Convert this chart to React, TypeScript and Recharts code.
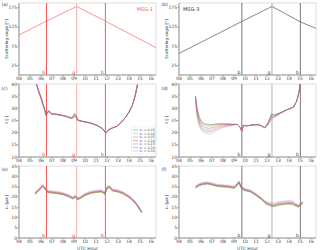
import { LineChart, Line, XAxis, YAxis, ReferenceLine, ReferenceArea } from 'recharts';

const FONT = 'DejaVu Sans';
const xTicks = [4, 5, 6, 7, 8, 9, 10, 11, 12, 13, 14, 15, 16];
const fmtHour = (v: number) => String(v).padStart(2, '0');

const aHours = [4, 6.5, 9.24, 11.85, 16.45];
const aAngle = [104, 140, 178, 140, 71];
const bHours = [4, 9.71, 12.45, 15.03, 16.45];
const bAngle = [56, 139, 178, 138, 121];

const epsNames = ['ε₀ = 0.01', 'ε₀ = 0.02', 'ε₀ = 0.05', 'ε₀ = 0.10', 'ε₀ = 0.15', 'ε₀ = 0.20', 'ε₀ = 0.30'];
const epsKeys = ['e01', 'e02', 'e05', 'e10', 'e15', 'e20', 'e30'];
const epsColors = ['#1f77b4', '#ff7f0e', '#2ca02c', '#d62728', '#9467bd', '#8c564b', '#e377c2'];

const cHours = [5.55, 5.8, 6.0, 6.2, 6.35, 6.45, 6.6, 6.72, 6.95, 7.4, 7.9, 8.4, 8.75, 8.92, 9.05, 9.2, 9.35, 9.8, 10.5, 11.1, 11.55, 11.9, 12.15, 12.5, 12.9, 13.3, 13.7, 14.0, 14.3, 14.55, 14.8];
const c01 = [40.5, 37.0, 34.5, 31.5, 29.4, 27.3, 28.5, 28.9, 27.8, 27.6, 27.2, 26.6, 26.0, 26.6, 27.5, 26.8, 25.2, 24.7, 24.0, 23.0, 21.8, 19.9, 21.3, 22.0, 22.6, 24.3, 26.4, 28.5, 31.3, 35.0, 40.5];
const c02 = [40.5, 37.1, 34.6, 31.6, 29.5, 27.4, 28.6, 29.0, 27.8, 27.6, 27.2, 26.6, 26.1, 26.8, 27.7, 26.9, 25.2, 24.7, 24.0, 23.0, 21.8, 19.9, 21.3, 22.0, 22.6, 24.3, 26.4, 28.5, 31.3, 35.0, 40.5];
const c05 = [40.5, 37.2, 34.7, 31.7, 29.6, 27.5, 28.7, 29.1, 27.9, 27.7, 27.2, 26.7, 26.2, 27.0, 28.0, 27.1, 25.3, 24.7, 24.0, 23.0, 21.8, 19.9, 21.3, 22.0, 22.6, 24.3, 26.4, 28.5, 31.3, 35.0, 40.5];
const c10 = [40.5, 36.9, 34.4, 31.4, 29.3, 27.2, 28.4, 28.8, 27.7, 27.5, 27.1, 26.5, 25.9, 26.4, 27.2, 26.6, 25.1, 24.6, 24.0, 23.0, 21.8, 19.9, 21.2, 22.0, 22.6, 24.3, 26.4, 28.5, 31.3, 35.0, 40.5];
const c15 = [40.5, 36.7, 34.2, 31.2, 29.1, 27.1, 28.3, 28.7, 27.6, 27.5, 27.1, 26.5, 25.8, 26.2, 26.9, 26.4, 25.0, 24.6, 23.9, 22.9, 21.7, 19.8, 21.2, 22.0, 22.6, 24.3, 26.4, 28.5, 31.3, 35.0, 40.5];
const c20 = [40.5, 36.5, 34.0, 31.0, 29.0, 27.0, 28.2, 28.6, 27.6, 27.4, 27.0, 26.4, 25.8, 26.1, 26.8, 26.3, 25.0, 24.5, 23.9, 22.9, 21.7, 19.8, 21.1, 21.9, 22.6, 24.3, 26.4, 28.5, 31.3, 35.0, 40.5];
const c30 = [40.5, 36.2, 33.6, 30.7, 28.8, 26.9, 28.0, 28.5, 27.5, 27.4, 27.0, 26.4, 25.7, 25.9, 26.6, 26.2, 24.9, 24.5, 23.9, 22.9, 21.7, 19.8, 21.1, 21.9, 22.6, 24.3, 26.4, 28.5, 31.3, 35.0, 40.5];

const dHours = [5.5, 5.6, 5.75, 5.9, 6.1, 6.4, 6.8, 7.2, 7.6, 8.0, 8.5, 9.0, 9.3, 9.55, 9.7, 9.85, 10.2, 10.7, 11.2, 11.5, 11.8, 12.1, 12.4, 12.7, 13.1, 13.5, 14.0, 14.4, 14.7, 14.9, 15.02];
const d01 = [35.0, 31.0, 27.5, 25.5, 24.0, 23.3, 23.1, 23.3, 23.6, 23.6, 23.5, 23.4, 23.4, 22.3, 20.6, 23.0, 22.8, 23.2, 23.3, 22.8, 22.0, 24.2, 27.6, 27.3, 28.0, 28.8, 29.8, 30.5, 33.0, 36.5, 40.2];
const d02 = [34.8, 30.6, 27.0, 25.0, 23.5, 22.8, 22.6, 23.0, 23.4, 23.5, 23.5, 23.4, 23.4, 22.3, 20.6, 23.0, 22.8, 23.2, 23.3, 22.8, 22.0, 24.0, 27.2, 27.1, 27.9, 28.8, 29.8, 30.5, 33.0, 36.5, 40.2];
const d05 = [35.2, 31.5, 28.0, 26.0, 24.4, 23.6, 23.4, 23.5, 23.7, 23.7, 23.6, 23.4, 23.4, 22.3, 20.6, 23.0, 22.8, 23.2, 23.3, 22.8, 22.0, 24.3, 27.8, 27.4, 28.0, 28.8, 29.8, 30.5, 33.0, 36.5, 40.2];
const d10 = [34.5, 30.0, 26.3, 24.3, 22.8, 22.0, 21.8, 22.3, 23.0, 23.2, 23.3, 23.4, 23.4, 22.3, 20.6, 23.0, 22.8, 23.2, 23.3, 22.8, 22.0, 23.8, 26.7, 26.9, 27.8, 28.7, 29.8, 30.5, 33.0, 36.5, 40.2];
const d15 = [34.2, 29.3, 25.5, 23.5, 22.0, 21.2, 21.0, 21.6, 22.5, 22.8, 23.1, 23.3, 23.4, 22.3, 20.6, 23.0, 22.8, 23.2, 23.3, 22.8, 22.0, 23.6, 26.2, 26.7, 27.7, 28.7, 29.8, 30.5, 33.0, 36.5, 40.2];
const d20 = [33.9, 28.7, 24.8, 22.8, 21.3, 20.5, 20.3, 20.9, 21.9, 22.4, 22.9, 23.2, 23.4, 22.3, 20.6, 23.0, 22.8, 23.2, 23.3, 22.8, 22.0, 23.4, 25.8, 26.5, 27.6, 28.6, 29.8, 30.5, 33.0, 36.5, 40.2];
const d30 = [33.5, 28.0, 24.0, 22.0, 20.5, 19.7, 19.5, 20.2, 21.3, 22.0, 22.6, 23.2, 23.4, 22.3, 20.6, 23.0, 22.8, 23.2, 23.3, 22.8, 22.0, 23.3, 25.3, 26.3, 27.5, 28.6, 29.8, 30.5, 33.0, 36.5, 40.2];

const eHours = [5.45, 5.8, 6.15, 6.35, 6.55, 6.7, 7.0, 7.5, 8.0, 8.5, 8.9, 9.1, 9.35, 9.6, 10.0, 10.5, 11.0, 11.5, 11.78, 12.0, 12.2, 12.5, 13.0, 13.5, 14.0, 14.3, 14.7, 15.15];
const e01 = [21.4, 23.1, 25.1, 24.1, 22.5, 22.2, 22.0, 21.7, 21.2, 20.2, 19.1, 20.0, 18.8, 19.4, 20.8, 21.8, 22.3, 22.5, 21.4, 24.1, 24.7, 23.0, 22.5, 21.5, 19.8, 18.5, 16.1, 12.4];
const e02 = [21.3, 23.0, 25.0, 24.0, 22.4, 22.1, 21.9, 21.6, 21.1, 20.1, 19.0, 19.9, 18.7, 19.3, 20.7, 21.7, 22.2, 22.4, 21.3, 24.0, 24.6, 22.9, 22.4, 21.4, 19.7, 18.4, 16.0, 12.3];
const e05 = [21.2, 22.9, 24.9, 23.9, 22.3, 22.0, 21.8, 21.5, 21.0, 20.0, 18.9, 19.8, 18.6, 19.2, 20.6, 21.6, 22.1, 22.3, 21.2, 23.9, 24.5, 22.8, 22.3, 21.3, 19.6, 18.3, 15.9, 12.2];
const e10 = [21.6, 23.3, 25.3, 24.3, 22.7, 22.4, 22.2, 21.9, 21.4, 20.4, 19.3, 20.2, 19.0, 19.6, 21.0, 22.0, 22.5, 22.7, 21.6, 24.3, 24.9, 23.2, 22.7, 21.7, 20.0, 18.7, 16.3, 12.5];
const e15 = [22.0, 23.7, 25.7, 24.7, 23.1, 22.8, 22.6, 22.3, 21.8, 20.8, 19.7, 20.6, 19.4, 20.0, 21.4, 22.4, 22.9, 23.1, 22.0, 24.7, 25.3, 23.6, 23.1, 22.1, 20.4, 19.1, 16.7, 12.9];
const e20 = [21.8, 23.5, 25.5, 24.5, 22.9, 22.6, 22.4, 22.1, 21.6, 20.6, 19.5, 20.4, 19.2, 19.8, 21.2, 22.2, 22.7, 22.9, 21.8, 24.5, 25.1, 23.4, 22.9, 21.9, 20.2, 18.9, 16.5, 12.7];
const e30 = [22.3, 24.0, 26.0, 25.0, 23.4, 23.1, 22.9, 22.6, 22.1, 21.1, 20.0, 20.9, 19.7, 20.3, 21.7, 22.7, 23.2, 23.4, 22.3, 25.0, 25.6, 23.9, 23.4, 22.4, 20.7, 19.4, 17.0, 13.0];

const fHours = [5.5, 5.8, 6.2, 6.6, 7.0, 7.5, 8.0, 8.5, 9.0, 9.2, 9.45, 9.7, 10.0, 10.5, 11.0, 11.5, 11.9, 12.3, 12.6, 12.9, 13.3, 13.8, 14.3, 14.6, 14.85, 15.0, 15.25];
const f01 = [24.5, 25.5, 26.2, 26.4, 25.9, 25.2, 25.0, 24.8, 24.3, 25.2, 26.9, 24.0, 23.2, 22.5, 20.8, 18.8, 16.8, 15.8, 15.5, 16.0, 16.4, 16.7, 16.7, 15.8, 15.2, 15.8, 17.1];
const f02 = [24.4, 25.4, 26.1, 26.3, 25.8, 25.1, 24.9, 24.7, 24.2, 25.1, 26.8, 23.9, 23.1, 22.4, 20.7, 18.7, 16.7, 15.7, 15.3, 15.8, 16.2, 16.5, 16.5, 15.7, 15.1, 15.7, 17.0];
const f05 = [24.3, 25.3, 26.0, 26.2, 25.7, 25.0, 24.8, 24.6, 24.1, 25.0, 26.7, 23.8, 23.0, 22.3, 20.6, 18.6, 16.6, 15.6, 15.2, 15.7, 16.1, 16.4, 16.4, 15.6, 15.0, 15.6, 16.9];
const f10 = [24.7, 25.7, 26.4, 26.6, 26.1, 25.4, 25.2, 25.0, 24.5, 25.4, 27.1, 24.2, 23.4, 22.7, 21.0, 19.0, 17.0, 16.1, 15.8, 16.3, 16.7, 17.0, 16.9, 16.0, 15.4, 16.0, 17.3];
const f15 = [25.1, 26.1, 26.8, 27.0, 26.5, 25.8, 25.6, 25.4, 24.9, 25.8, 27.5, 24.6, 23.8, 23.1, 21.4, 19.4, 17.5, 16.8, 16.5, 17.0, 17.4, 17.7, 17.6, 16.5, 15.8, 16.4, 17.6];
const f20 = [24.9, 25.9, 26.6, 26.8, 26.3, 25.6, 25.4, 25.2, 24.7, 25.6, 27.3, 24.4, 23.6, 22.9, 21.2, 19.2, 17.2, 16.4, 16.1, 16.6, 17.0, 17.3, 17.2, 16.2, 15.6, 16.2, 17.4];
const f30 = [25.4, 26.4, 27.1, 27.3, 26.8, 26.1, 25.9, 25.7, 25.2, 26.1, 27.8, 24.9, 24.1, 23.4, 21.7, 19.7, 17.8, 17.3, 17.0, 17.5, 17.9, 18.2, 18.1, 16.9, 16.1, 16.6, 17.8];

const angleTicks = [0, 25, 50, 75, 100, 125, 150, 175];
const tauTicks = [10, 15, 20, 25, 30, 35, 40];
const reTicks = [0, 5, 10, 15, 20, 25, 30, 35];

const msg1Lines = [
  { x: 6.5, label: 'b', color: '#f24a4a' },
  { x: 9.24, label: 'g', color: '#f9a5a5' },
  { x: 11.85, label: 'b', color: '#f24a4a' },
];
const msg3Lines = [
  { x: 9.71, label: 'b', color: '#6a6a6a' },
  { x: 12.45, label: 'g', color: '#aaaaaa' },
  { x: 15.03, label: 'b', color: '#6a6a6a' },
];

const buildRows = (hours: number[], cols: number[][]) =>
  hours.map((h, i) => {
    const row: Record<string, number> = { h };
    cols.forEach((c, j) => (row[epsKeys[j]] = c[i]));
    return row;
  });

const epsSeries = epsKeys.map((k, i) => ({ key: k, color: epsColors[i], name: epsNames[i] }));

const tickStyle = { fontSize: 4.5, fill: '#444', fontFamily: FONT };

interface PanelProps {
  left: number;
  top: number;
  height: number;
  xAxisHeight: number;
  rows: Record<string, number>[];
  series: { key: string; color: string; name: string }[];
  domain: [number, number];
  yTicks: number[];
  vlines: { x: number; label: string; color: string }[];
  labelColor: string;
  xLabel?: boolean;
  lineOpacity?: number;
  lineWidth?: number;
}

function Panel({ left, top, height, xAxisHeight, rows, series, domain, yTicks, vlines, labelColor, xLabel, lineOpacity = 0.6, lineWidth = 0.6 }: PanelProps) {
  return (
    <div style={{ position: 'absolute', left, top }}>
      <LineChart width={160} height={height} data={rows} margin={{ top: 3, right: 4, left: 0, bottom: 0 }}>
        <XAxis
          dataKey="h"
          type="number"
          domain={[4, 16.45]}
          ticks={xTicks}
          interval={0}
          tickFormatter={fmtHour}
          height={xAxisHeight}
          tick={tickStyle}
          tickSize={1.5}
          tickMargin={0.5}
          stroke="#999"
          allowDataOverflow
          label={xLabel ? { value: 'UTC Hour', position: 'insideBottom', offset: 0, fontSize: 4.5, fill: '#444', fontFamily: FONT } : undefined}
        />
        <YAxis
          type="number"
          domain={domain}
          ticks={yTicks}
          width={19}
          tick={tickStyle}
          tickSize={1.5}
          tickMargin={0.5}
          stroke="#999"
          allowDataOverflow
        />
        <ReferenceArea x1={4} x2={16.45} y1={domain[0]} y2={domain[1]} fill="none" stroke="#c8c8c8" strokeWidth={0.6} />
        {vlines.map((v) => (
          <ReferenceLine
            key={`v-${v.x}`}
            x={v.x}
            stroke={v.color}
            strokeOpacity={1}
            strokeWidth={0.9}
            label={{ value: v.label, position: 'insideBottomRight', offset: 1.5, fontSize: 4.5, fill: labelColor, fontFamily: FONT }}
          />
        ))}
        {series.map((s) => (
          <Line
            key={s.key}
            dataKey={s.key}
            stroke={s.color}
            strokeWidth={lineWidth}
            strokeOpacity={lineOpacity}
            dot={false}
            isAnimationActive={false}
          />
        ))}
      </LineChart>
    </div>
  );
}

export default function App() {
  const aRows = aHours.map((h, i) => ({ h, e01: aAngle[i] }));
  const bRows = bHours.map((h, i) => ({ h, e01: bAngle[i] }));
  const cRows = buildRows(cHours, [c01, c02, c05, c10, c15, c20, c30]);
  const dRows = buildRows(dHours, [d01, d02, d05, d10, d15, d20, d30]);
  const eRows = buildRows(eHours, [e01, e02, e05, e10, e15, e20, e30]);
  const fRows = buildRows(fHours, [f01, f02, f05, f10, f15, f20, f30]);

  const txt = { fontSize: 4.5, fill: '#333', fontFamily: FONT } as const;

  return (
    <div style={{ position: 'fixed', left: 0, top: 0, width: 320, height: 250, background: '#fff', overflow: 'hidden' }}>
      <Panel left={0} top={0} height={83} xAxisHeight={8} rows={aRows} series={[{ key: 'e01', color: '#f66', name: '' }]} domain={[0, 187]} yTicks={angleTicks} vlines={msg1Lines} labelColor="#e33" lineOpacity={1} lineWidth={0.7} />
      <Panel left={160} top={0} height={83} xAxisHeight={8} rows={bRows} series={[{ key: 'e01', color: '#555', name: '' }]} domain={[0, 187]} yTicks={angleTicks} vlines={msg3Lines} labelColor="#333" lineOpacity={1} lineWidth={0.7} />
      <Panel left={0} top={81} height={84} xAxisHeight={8} rows={cRows} series={epsSeries} domain={[10, 40]} yTicks={tauTicks} vlines={msg1Lines} labelColor="#e33" />
      <Panel left={160} top={81} height={84} xAxisHeight={8} rows={dRows} series={epsSeries} domain={[10, 40]} yTicks={tauTicks} vlines={msg3Lines} labelColor="#333" />
      <Panel left={0} top={163} height={87} xAxisHeight={12} rows={eRows} series={epsSeries} domain={[0, 35]} yTicks={reTicks} vlines={msg1Lines} labelColor="#e33" xLabel />
      <Panel left={160} top={163} height={87} xAxisHeight={12} rows={fRows} series={epsSeries} domain={[0, 35]} yTicks={reTicks} vlines={msg3Lines} labelColor="#333" xLabel />

      <svg width={320} height={250} style={{ position: 'absolute', left: 0, top: 0, pointerEvents: 'none' }}>
        <text x={1.5} y={6} {...txt}>(a)</text>
        <text x={161.5} y={6} {...txt}>(b)</text>
        <text x={1.5} y={90} {...txt}>(c)</text>
        <text x={161.5} y={90} {...txt}>(d)</text>
        <text x={1.5} y={171} {...txt}>(e)</text>
        <text x={161.5} y={171} {...txt}>(f)</text>

        <text transform="translate(8,39) rotate(-90)" textAnchor="middle" {...txt} fontSize={4}>Scattering angle [°]</text>
        <text transform="translate(168,39) rotate(-90)" textAnchor="middle" {...txt} fontSize={4}>Scattering angle [°]</text>
        <text transform="translate(8,120) rotate(-90)" textAnchor="middle" {...txt} fontSize={4}>τ [-]</text>
        <text transform="translate(168,120) rotate(-90)" textAnchor="middle" {...txt} fontSize={4}>τ [-]</text>
        <text transform="translate(8,202) rotate(-90)" textAnchor="middle" {...txt} fontSize={4}>rₑ [µm]</text>
        <text transform="translate(168,202) rotate(-90)" textAnchor="middle" {...txt} fontSize={4}>rₑ [µm]</text>

        <text x={153} y={11} textAnchor="end" fontSize={5} fill="#f45b5b" fontFamily={FONT}>MSG-1</text>
        <text x={183} y={11} fontSize={5} fill="#333" fontFamily={FONT}>MSG-3</text>

        <rect x={131.5} y={127} width={23} height={27} rx={1} fill="#fff" fillOpacity={0.85} stroke="#ddd" strokeWidth={0.4} />
        {epsNames.map((n, i) => (
          <g key={n}>
            <line x1={133} x2={138} y1={130 + i * 3.5} y2={130 + i * 3.5} stroke={epsColors[i]} strokeOpacity={0.5} strokeWidth={0.8} />
            <text x={139.5} y={131.2 + i * 3.5} fontSize={3.3} fill="#444" fontFamily={FONT}>{n}</text>
          </g>
        ))}
      </svg>
    </div>
  );
}
